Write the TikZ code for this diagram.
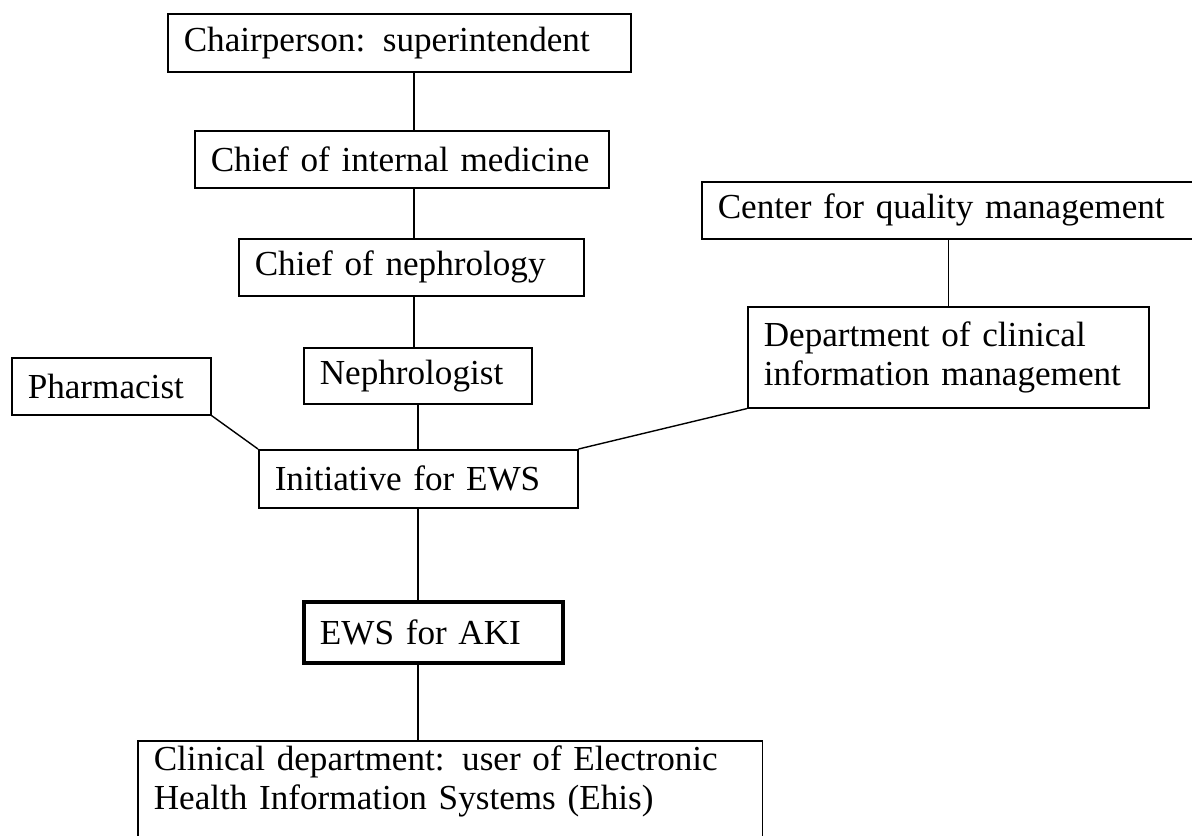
\documentclass[tikz,border=0pt]{standalone}
\usepackage{fontspec}
\setmainfont{Liberation Serif}

\begin{document}
\begin{tikzpicture}[x=0.02cm,y=-0.02cm,
  box/.style={draw,line width=0.9pt,anchor=north west,align=left,inner xsep=0.32cm,inner ysep=0.1cm,font=\fontsize{20}{22}\selectfont},
  link/.style={line width=0.8pt}]

\useasboundingbox (0,0) rectangle (1192,835);

\node[box,text width=8.62cm,minimum height=1.16cm] (chair) at(167,13){Chairperson: superintendent};
\node[box,text width=7.64cm,minimum height=1.14cm] (internal) at(194,130){Chief of internal medicine};
\node[box,text width=6.26cm,minimum height=1.14cm] (nephchief) at(238,238){Chief of nephrology};
\node[box,text width=3.92cm,minimum height=1.12cm] (nephro) at(303,347){Nephrologist};
\node[box,text width=3.34cm,minimum height=1.14cm] (pharm) at(11,357){Pharmacist};
\node[box,text width=9.34cm,minimum height=1.14cm] (quality) at(701,181){Center for quality management};
\node[box,text width=7.38cm,minimum height=2.02cm] (clinfo) at(747,306){Department of clinical\\information management};
\node[box,text width=5.74cm,minimum height=1.16cm] (initiative) at(258,449){Initiative for EWS};
\node[box,text width=4.54cm,minimum height=1.22cm,line width=2.2pt] (ews) at(302,600){EWS for AKI};
\node[box,text width=11.86cm] (clinical) at(137,740){Clinical department: user of Electronic\\Health Information Systems (Ehis)\rule[-1.2cm]{0pt}{1.2cm}};

\coordinate (upper) at(414,0);
\coordinate (lower) at(418,0);

\draw[link] (chair.south -| upper) -- (internal.north -| upper);
\draw[link] (internal.south -| upper) -- (nephchief.north -| upper);
\draw[link] (nephchief.south -| upper) -- (nephro.north -| upper);
\draw[link] (nephro.south -| lower) -- (initiative.north -| lower);
\draw[link] (initiative.south -| lower) -- (ews.north -| lower);
\draw[link] (ews.south -| lower) -- (clinical.north -| lower);
\draw[link] (pharm.south east) -- (initiative.north west);
\draw[link] (clinfo.south west) -- (initiative.north east);
\draw[link] (quality.south -| clinfo.north) -- (clinfo.north);

\end{tikzpicture}
\end{document}
